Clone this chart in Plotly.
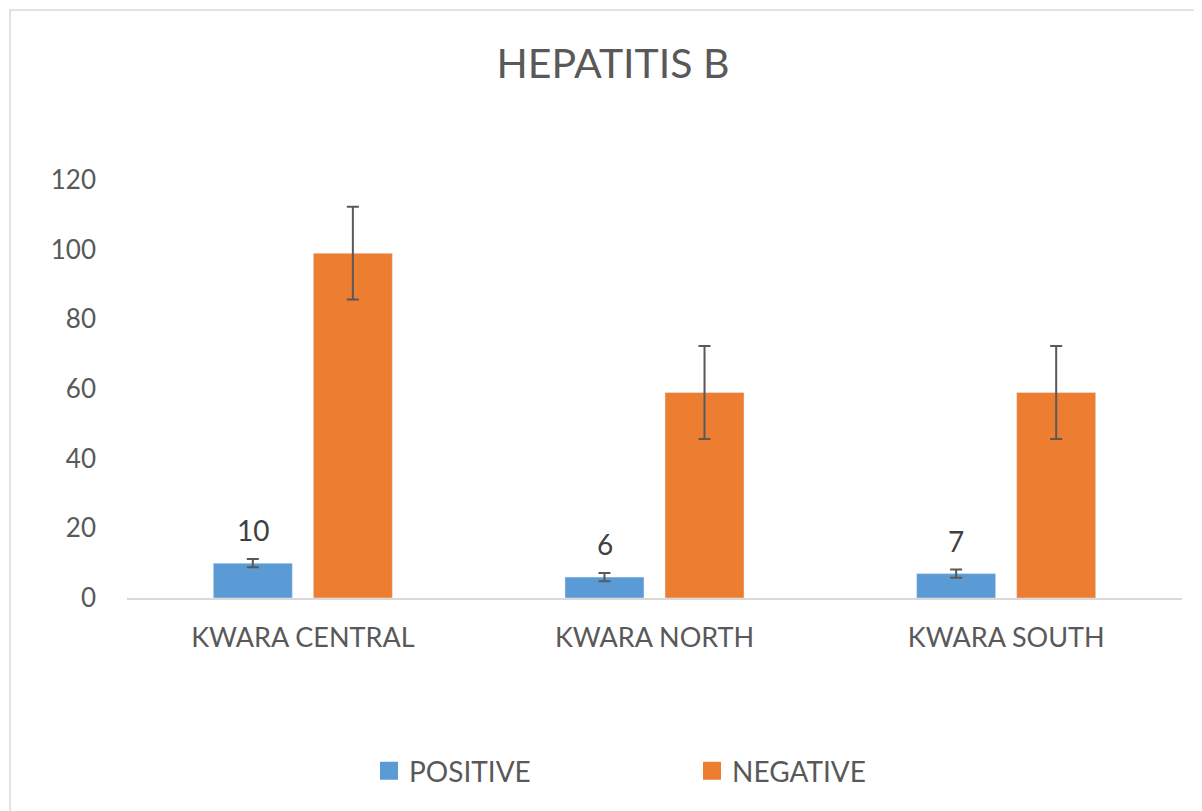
import plotly.graph_objects as go

# values
regions = ["KWARA CENTRAL", "KWARA NORTH", "KWARA SOUTH"]
positive = [10, 6, 7]
negative = [99, 59, 59]
# Excel "standard error" bars: one value for the whole series
positive_err = [1.2, 1.2, 1.2]
negative_err = [13.33, 13.33, 13.33]

FONT = "Lato"
TEXT = "#595959"
BLUE = "#5B9BD5"
ORANGE = "#ED7D31"

fig = go.Figure()
fig.add_trace(go.Bar(
    name="POSITIVE", x=regions, y=positive,
    marker_color=BLUE, showlegend=False,
    error_y=dict(type="data", array=positive_err, color=TEXT, thickness=2, width=6),
))
fig.add_trace(go.Bar(
    name="NEGATIVE", x=regions, y=negative,
    marker_color=ORANGE, showlegend=False,
    error_y=dict(type="data", array=negative_err, color=TEXT, thickness=2, width=6),
))

# legend-only entries so the swatches come out as big as Excel's
for name, col in [("POSITIVE", BLUE), ("NEGATIVE", ORANGE)]:
    fig.add_trace(go.Scatter(
        x=[None], y=[None], name=name, mode="markers",
        marker=dict(symbol="square", size=16, color=col, line=dict(color=col, width=2)),
    ))

# data labels only on the positive series, sitting above the error bar
for reg, val in zip(regions, positive):
    fig.add_annotation(
        x=reg, y=val, text=str(val), showarrow=False,
        xshift=-50, yshift=14, yanchor="bottom",
        font=dict(family=FONT, size=28, color="#404040"),
    )

# chart-area border (only top and left edges show in the picture)
fig.add_shape(
    type="rect", xref="paper", yref="paper",
    x0=-0.1109, x1=2, y0=-2, y1=1.4067,
    line=dict(color="#D9D9D9", width=1.5), layer="below",
)

# page body has an 8px margin, so the figure is 8px smaller than the window
fig.update_layout(
    width=1194, height=803,
    margin=dict(l=119, r=20, t=172, b=213),
    paper_bgcolor="white", plot_bgcolor="white",
    barmode="group", bargap=0.431, bargroupgap=0.21,
    title=dict(
        text="HEPATITIS B", x=605 / 1194, xanchor="center",
        y=1 - 56 / 803, yanchor="middle",
        font=dict(family=FONT, size=41, color=TEXT),
    ),
    font=dict(family=FONT, color=TEXT),
    showlegend=True,
    legend=dict(
        orientation="h", x=0.2294, xanchor="left", y=-0.414, yanchor="middle",
        font=dict(family=FONT, size=28, color=TEXT),
        entrywidth=278, entrywidthmode="pixels", traceorder="normal",
    ),
    xaxis=dict(
        showline=True, linecolor="#D9D9D9", linewidth=2,
        showgrid=False, ticks="", ticklabelstandoff=15,
        tickfont=dict(family=FONT, size=27, color=TEXT),
    ),
    yaxis=dict(
        range=[0, 120], dtick=20, showgrid=False, zeroline=False,
        showline=False, ticks="", ticklabelstandoff=30,
        tickfont=dict(family=FONT, size=26, color=TEXT),
    ),
)

fig.write_html("out.html")
